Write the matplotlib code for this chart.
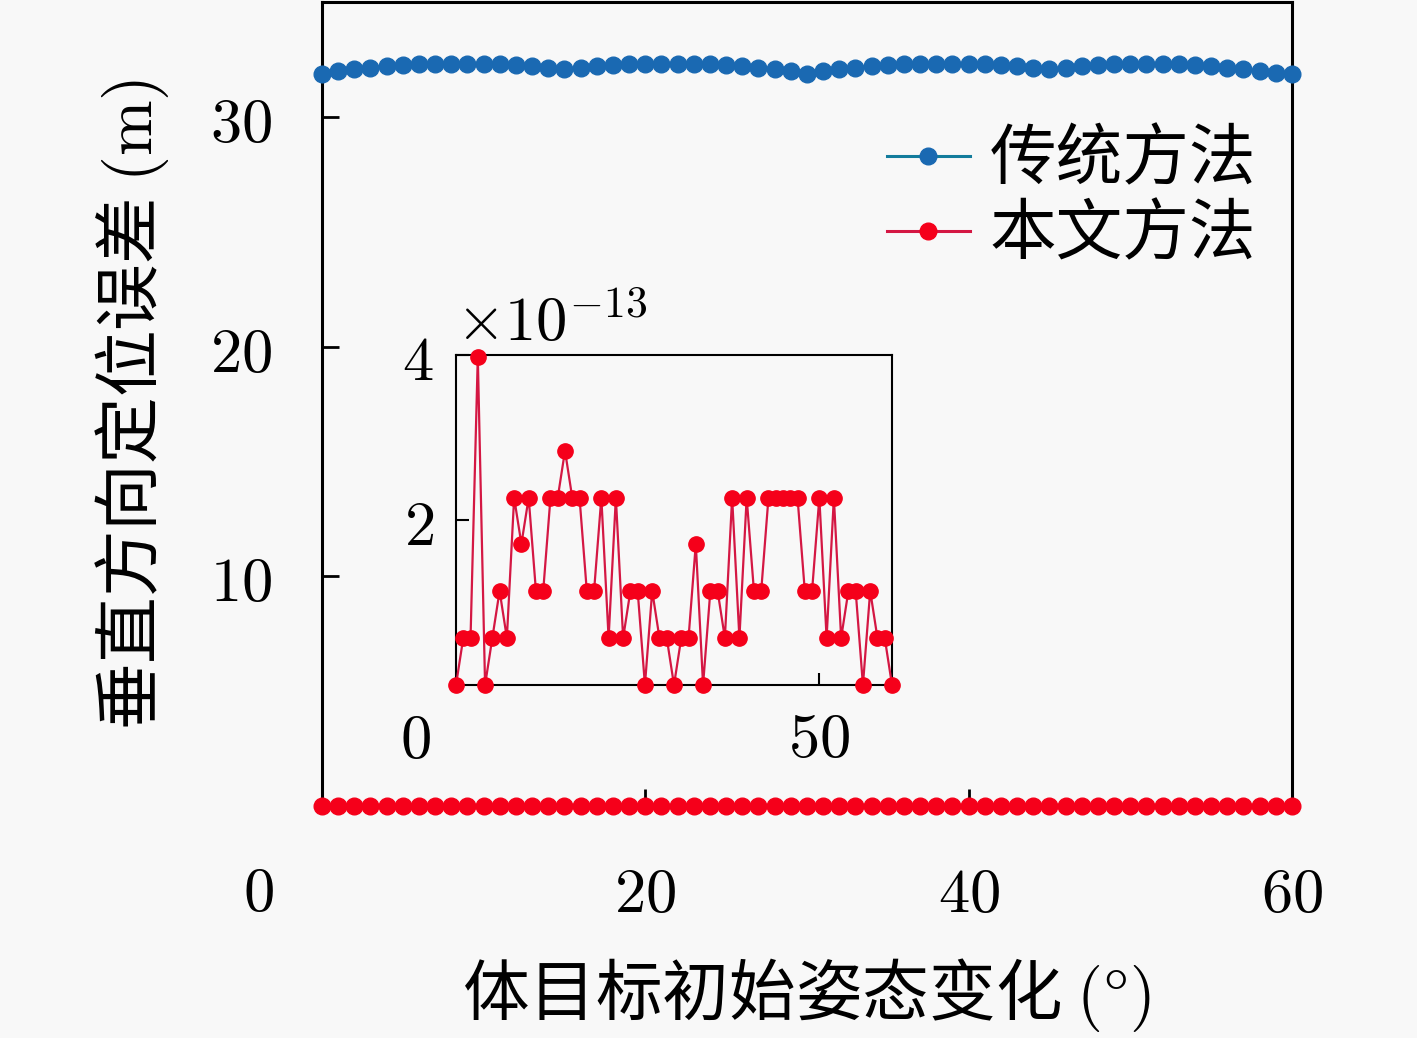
import matplotlib
matplotlib.use("Agg")
import matplotlib.pyplot as plt
import numpy as np
from matplotlib.ticker import FuncFormatter

plt.rcParams["mathtext.fontset"] = "cm"
plt.rcParams["font.family"] = ["Noto Sans CJK SC", "DejaVu Sans"]

# ---- data ----
angle = list(range(61))

traditional = [
    31.89, 31.99, 32.07, 32.14, 32.22, 32.26, 32.29, 32.29, 32.29, 32.29,
    32.29, 32.29, 32.26, 32.22, 32.14, 32.07, 32.14, 32.22, 32.26, 32.29,
    32.29, 32.29, 32.29, 32.29, 32.29, 32.26, 32.22, 32.14, 32.10, 31.99,
    31.89, 31.99, 32.07, 32.14, 32.22, 32.26, 32.29, 32.29, 32.29, 32.29,
    32.29, 32.29, 32.26, 32.22, 32.14, 32.07, 32.14, 32.22, 32.26, 32.29,
    32.29, 32.29, 32.29, 32.29, 32.26, 32.22, 32.14, 32.07, 31.99, 31.93,
    31.86,
]

# proposed method error, in units of 1e-13 m
proposed_e13 = [
    0.00, 0.57, 0.57, 3.98, 0.00, 0.57, 1.14, 0.57, 2.27, 1.71,
    2.27, 1.14, 1.14, 2.27, 2.27, 2.84, 2.27, 2.27, 1.14, 1.14,
    2.27, 0.57, 2.27, 0.57, 1.14, 1.14, 0.00, 1.14, 0.57, 0.57,
    0.00, 0.57, 0.57, 1.71, 0.00, 1.14, 1.14, 0.57, 2.27, 0.57,
    2.27, 1.14, 1.14, 2.27, 2.27, 2.27, 2.27, 2.27, 1.14, 1.14,
    2.27, 0.57, 2.27, 0.57, 1.14, 1.14, 0.00, 1.14, 0.57, 0.57,
    0.00,
]
proposed = np.array(proposed_e13) * 1e-13

labels = ["传统方法", "本文方法"]
xlabel = "体目标初始姿态变化 $(\\degree)$"
ylabel = "垂直方向定位误差 $(\\mathrm{m})$"

blue_line = "#137c9c"
blue_mark = "#1a69b2"
red_line = "#d41743"
red_mark = "#f5001a"
bg = "#f8f8f8"

num_fs = 45
cjk_fs = 48

fig = plt.figure(figsize=(14.17, 10.38), dpi=100, facecolor=bg)
ax = fig.add_axes([0.2272, 0.2235, 0.6845, 0.7745], facecolor=bg)

ax.plot(angle, traditional, "-o", color=blue_line, mfc=blue_mark, mec=blue_mark,
        lw=2.2, ms=12, label=labels[0], clip_on=False, zorder=3)
ax.plot(angle, proposed, "-o", color=red_line, mfc=red_mark, mec=red_mark,
        lw=2.2, ms=12, label=labels[1], clip_on=False, zorder=3)

ax.set_xlim(0, 60)
ax.set_ylim(0, 35)
ax.set_xticks([20, 40, 60])
ax.set_yticks([10, 20, 30])
numfmt = FuncFormatter(lambda v, p: f"${v:g}$")
ax.xaxis.set_major_formatter(numfmt)
ax.yaxis.set_major_formatter(numfmt)
ax.tick_params(direction="in", length=12, width=2, labelsize=num_fs,
               top=False, right=False)
ax.tick_params(axis="x", pad=40)
ax.tick_params(axis="y", pad=36)
for s in ax.spines.values():
    s.set_linewidth(2.2)
ax.spines["bottom"].set_visible(False)

ax.set_xlabel(xlabel, fontsize=cjk_fs, labelpad=22)
ax.set_ylabel(ylabel, fontsize=cjk_fs, labelpad=28)

# shared origin label
fig.text(258 / 1417, 1 - 893 / 1038, "$0$", fontsize=num_fs, ha="center", va="center")

ax.legend(loc="upper right", bbox_to_anchor=(0.991, 0.878), frameon=False,
          fontsize=cjk_fs, handlelength=1.25, handletextpad=0.3,
          labelspacing=0.12, borderaxespad=0.0)

# ---- inset ----
ins = fig.add_axes([456 / 1417, 1 - 685 / 1038, 436 / 1417, 330 / 1038], facecolor=bg)
ins.plot(angle, proposed, "-o", color=red_line, mfc=red_mark, mec=red_mark,
         lw=1.6, ms=11, clip_on=False, zorder=3)
ins.set_xlim(0, 60)
ins.set_ylim(0, 4e-13)
ins.set_xticks([50])
ins.set_yticks([2e-13, 4e-13])
ins.xaxis.set_major_formatter(numfmt)
ins.yaxis.set_major_formatter(FuncFormatter(lambda v, p: f"${v * 1e13:g}$"))
ins.text(0.0, 1.0, "$\\times 10^{-13}$", transform=ins.transAxes,
         fontsize=num_fs, ha="left", va="bottom")
ins.tick_params(direction="in", length=9, width=1.5, labelsize=num_fs,
                top=False, right=False)
ins.tick_params(axis="x", pad=16)
ins.tick_params(axis="y", pad=16)
for s in ins.spines.values():
    s.set_linewidth(1.5)
fig.text(415 / 1417, 1 - 740 / 1038, "$0$", fontsize=num_fs, ha="center", va="center")

fig.savefig("out.png", dpi=100, facecolor=bg)
